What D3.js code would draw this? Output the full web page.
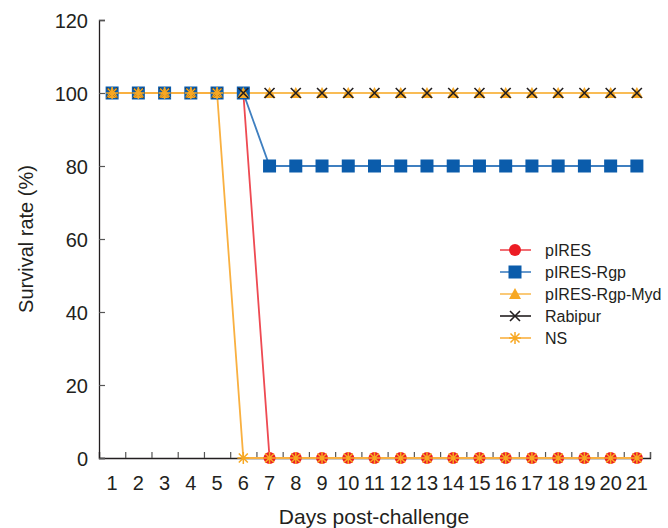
<!DOCTYPE html>
<html>
<head>
<meta charset="utf-8">
<script src="https://cdn.jsdelivr.net/npm/d3@7"></script>
<style>
  body { margin: 0; background: #fff; }
  text { font-family: "Liberation Sans", Arial, sans-serif; fill: #231f20; }
</style>
</head>
<body>
<svg width="668" height="528"></svg>
<script>
// data
const days = d3.range(1, 22);
const seriesNames = ['pIRES', 'pIRES-Rgp', 'pIRES-Rgp-Myd', 'Rabipur', 'NS'];
const pIRES       = [100,100,100,100,100,100,0,0,0,0,0,0,0,0,0,0,0,0,0,0,0];
const pIRESRgp    = [100,100,100,100,100,100,80,80,80,80,80,80,80,80,80,80,80,80,80,80,80];
const pIRESRgpMyd = [100,100,100,100,100,100,100,100,100,100,100,100,100,100,100,100,100,100,100,100,100];
const rabipur     = [100,100,100,100,100,100,100,100,100,100,100,100,100,100,100,100,100,100,100,100,100];
const ns          = [100,100,100,100,100,0,0,0,0,0,0,0,0,0,0,0,0,0,0,0,0];
const yTicks = [0, 20, 40, 60, 80, 100, 120];

const colors = ['#ec1c24', '#0b5cab', '#f7a823', '#231f20', '#f7a823'];
const lineColors = ['#ee4a52', '#3f7fc0', '#f9bc55', '#231f20', '#f9b040'];
const values = [pIRES, pIRESRgp, pIRESRgpMyd, rabipur, ns];
// lines go down in this order (black first so the orange one sits on top), markers in series order
const lineOrder = [3, 0, 1, 2, 4];

const svg = d3.select('svg');
const x = d3.scaleLinear().domain([0.5, 21.5]).range([99, 650]);
const y = d3.scaleLinear().domain([0, 120]).range([458, 20]);

// axes
const xAxis = svg.append('g').attr('transform', 'translate(0,458)')
  .call(d3.axisBottom(x).tickValues(d3.range(0.5, 22, 1)).tickSize(-6).tickFormat(''));
const yAxis = svg.append('g').attr('transform', 'translate(99,0)')
  .call(d3.axisLeft(y).tickValues(yTicks).tickSize(-6).tickPadding(10));
[xAxis, yAxis].forEach(a => {
  a.select('.domain').attr('stroke', '#231f20').attr('stroke-width', 1.3);
  a.selectAll('.tick line').attr('stroke', '#555').attr('stroke-width', 1.2);
});
yAxis.selectAll('.tick text').attr('font-size', 20).attr('fill', '#231f20')
  .attr('x', -11).attr('dy', '0.36em').style('font-family', '"Liberation Sans", Arial, sans-serif');

svg.append('g').selectAll('text').data(days).enter().append('text')
  .attr('x', d => x(d)).attr('y', 490)
  .attr('text-anchor', 'middle').attr('font-size', 20)
  .text(d => d);

svg.append('text').attr('x', 374).attr('y', 524).attr('text-anchor', 'middle')
  .attr('font-size', 21).text('Days post-challenge');
svg.append('text').attr('transform', 'translate(33,239) rotate(-90)')
  .attr('text-anchor', 'middle').attr('font-size', 20).text('Survival rate (%)');

// marker shapes
const drawMarker = (g, i) => {
  if (i === 0) {
    g.append('circle').attr('r', 6).attr('fill', colors[0]);
  } else if (i === 1) {
    g.append('rect').attr('x', -6.5).attr('y', -6.5).attr('width', 13).attr('height', 13).attr('fill', colors[1]);
  } else if (i === 2) {
    g.append('path').attr('d', 'M0,-6L6,5L-6,5Z').attr('fill', colors[2]);
  } else if (i === 3) {
    g.append('path').attr('d', 'M-5,-5L5,5M-5,5L5,-5').attr('stroke', colors[3]).attr('stroke-width', 1.6);
  } else {
    g.append('path').attr('d', 'M-6,0L6,0M0,-6L0,6M-4.5,-4.5L4.5,4.5M-4.5,4.5L4.5,-4.5')
      .attr('stroke', colors[4]).attr('stroke-width', 1.5);
  }
};

const line = d3.line().x((d, j) => x(days[j])).y(d => y(d));

lineOrder.forEach(i => {
  svg.append('path').datum(values[i]).attr('d', line)
    .attr('fill', 'none').attr('stroke', lineColors[i]).attr('stroke-width', 1.8);
});
values.forEach((vals, i) => {
  const g = svg.append('g');
  vals.forEach((v, j) => {
    drawMarker(g.append('g').attr('transform', `translate(${x(days[j])},${y(v)})`), i);
  });
});

// legend
const legend = svg.append('g');
seriesNames.forEach((name, i) => {
  const ly = 250 + i * 22;
  legend.append('line').attr('x1', 500).attr('x2', 531).attr('y1', ly).attr('y2', ly)
    .attr('stroke', lineColors[i]).attr('stroke-width', 1.6);
  drawMarker(legend.append('g').attr('transform', `translate(515,${ly})`), i);
  legend.append('text').attr('x', 545).attr('y', ly + 6).attr('font-size', 16).text(name);
});
</script>
</body>
</html>
